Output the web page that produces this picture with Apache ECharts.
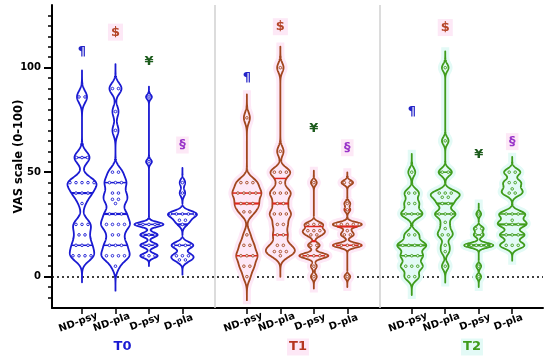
<!DOCTYPE html>
<html><head><meta charset="utf-8">
<script src="https://cdn.jsdelivr.net/npm/echarts@6/dist/echarts.min.js"></script>
<style>html,body{margin:0;padding:0;background:#fff}#c{width:550px;height:358px}</style>
</head><body><div id="c"></div>
<script>
// ---------- data ----------
const categories = ['ND-psy', 'ND-pla', 'D-psy', 'D-pla'];
const groups = ['T0', 'T1', 'T2'];
const yLabelTicks = [0, 50, 100];

const t0NDpsy = [86,86,57,57,57,45,45,45,45,45,40,40,40,35,25,25,25,20,20,15,15,15,10,10,10,10];
const t0NDpla = [90,90,79,70,50,50,45,45,45,40,40,37,37,35,30,30,30,25,25,25,25,20,20,15,15,15,10,10,10,10,5];
const t0Dpsy  = [86,55,25,25,25,25,25,20,20,20,15,15,15,10,10,10];
const t0Dpla  = [45,40,30,30,30,30,30,27,27,25,15,15,15,15,10,10,10,8,8];

const t1NDpsy = [76,45,45,45,40,40,40,40,35,35,35,31,31,20,15,15,10,10,10,5,5,0];
const t1NDpla = [100,60,50,50,50,45,40,40,40,35,35,30,30,30,25,25,20,20,15,15,12,12,12,10];
const t1Dpsy  = [45,25,25,25,22,22,22,20,20,15,15,10,10,10,10,10,5,0];
const t1Dpla  = [45,45,35,32,25,25,25,25,25,22,20,20,15,15,15,15,15,0];

const t2NDpsy = [50,40,40,35,35,30,30,30,20,20,15,15,15,15,10,10,10,5,5,5,0,0];
const t2NDpla = [100,65,50,50,40,40,40,38,38,35,35,30,30,30,26,23,20,20,15,12,5];
const t2Dpsy  = [30,23,23,20,20,15,15,15,15,15,15,5,0];
const t2Dpla  = [50,50,45,45,42,40,40,30,30,30,27,25,25,25,20,20,20,15,15,15];

// quartile / median lines (T0 x4, T1 x4, T2 x4)
const q1Lines  = [15, 15, 15, 15, 10, 20, 10, 15, 10, 30, 15, 20];
const medLines = [40, 30, 20, 25, 35, 35, 17, 24, 15, 35, 15, 25];
const q3Lines  = [57, 45, 25, 30, 40, 47, 24, 32, 30, 50, 20, 30];

// significance symbols and their heights
const annotSymbols = ['\u00B6', '$', '\u00A5', '\u00A7'];
const annotT0 = [107.5, 117, 103, 63];
const annotT1 = [95.4, 119.6, 71, 61.7];
const annotT2 = [79, 119.2, 58.2, 64.6];

// ---------- layout / style ----------
const violinValues = [t0NDpsy, t0NDpla, t0Dpsy, t0Dpla, t1NDpsy, t1NDpla, t1Dpsy, t1Dpla, t2NDpsy, t2NDpla, t2Dpsy, t2Dpla];
const annotHeights = [annotT0, annotT1, annotT2];
const GROUP_STEP = 4.925;
const X_MIN = -0.896, X_MAX = 13.77;
const HALF_W = 14.5;
const outlineColors = ['#1a1ad2', '#a2471f', '#3f9c1c'];
const lineColors = ['#1a1ad2', '#e0261e', '#3f9c1c'];
const glowColors = [null, '#fde8f6', '#e3faf6'];
const groupLabelColors = ['#1a1ad2', '#b5351f', '#3f9c1c'];
const groupLabelBg = [null, '#fde8f6', '#e3faf6'];
const symbolColors = ['#2424c8', '#b5462a', '#1d5c1d', '#9a35c9'];
const symbolBg = [null, '#fde8f6', null, '#fde8f6'];
const groupLabelX = [122.5, 298, 472];

function xPos(g, c) { return g * GROUP_STEP + c; }
const tickPositions = [];
groups.forEach((g, gi) => categories.forEach((c, ci) => tickPositions.push(xPos(gi, ci))));
const separators = [3 + (GROUP_STEP - 3) / 2, GROUP_STEP + 3 + (GROUP_STEP - 3) / 2];
const minorTicks = [];
for (let v = -10; v <= 125; v += 5) minorTicks.push(v);

function nameAt(v) {
  for (let i = 0; i < tickPositions.length; i++) {
    if (Math.abs(tickPositions[i] - v) < 0.01) return categories[i % 4];
  }
  return '';
}

function quantile(sorted, p) {
  const pos = (sorted.length - 1) * p, lo = Math.floor(pos), hi = Math.ceil(pos);
  return sorted[lo] + (sorted[hi] - sorted[lo]) * (pos - lo);
}
function bandwidth(v) {
  const n = v.length, mean = v.reduce((a, b) => a + b, 0) / n;
  const sd = Math.sqrt(v.reduce((a, b) => a + (b - mean) * (b - mean), 0) / (n - 1));
  const s = v.slice().sort((a, b) => a - b);
  const iqr = quantile(s, 0.75) - quantile(s, 0.25);
  let sig = Math.min(sd, iqr / 1.34);
  if (!(sig > 0)) sig = sd;
  return Math.max(1.1, 0.28 * 0.9 * sig * Math.pow(n, -0.2));
}
function dens(v, h, y) {
  let s = 0;
  for (const x of v) { const z = (y - x) / h; s += Math.exp(-0.5 * z * z); }
  return s;
}

function renderViolin(params, api) {
  const xc = api.value(0);
  const idx = api.value(2);
  const g = Math.floor(idx / 4);
  const v = violinValues[idx];
  const h = bandwidth(v);
  const lo = Math.min(...v) - 4.5 * h, hi = Math.max(...v) + 4.5 * h;
  const N = 400, ys = [], ds = [];
  for (let i = 0; i <= N; i++) { const y = lo + (hi - lo) * i / N; ys.push(y); ds.push(dens(v, h, y)); }
  const dmax = Math.max(...ds);
  const cx = api.coord([xc, 0])[0];
  const wAt = y => dens(v, h, y) / dmax * HALF_W;
  const pts = [];
  for (let i = 0; i <= N; i++) pts.push([cx + ds[i] / dmax * HALF_W, api.coord([xc, ys[i]])[1]]);
  for (let i = N; i >= 0; i--) pts.push([cx - ds[i] / dmax * HALF_W, api.coord([xc, ys[i]])[1]]);
  const children = [];
  if (glowColors[g]) {
    children.push({ type: 'polygon', shape: { points: pts }, style: { fill: glowColors[g], stroke: glowColors[g], lineWidth: 8, lineJoin: 'miter' } });
  }
  children.push({ type: 'polygon', shape: { points: pts }, style: { fill: 'rgba(255,255,255,0)', stroke: outlineColors[g], lineWidth: 1.8, lineJoin: 'round' } });
  [[q1Lines[idx], 1.5], [medLines[idx], 2.2], [q3Lines[idx], 1.5]].forEach(([q, lw]) => {
    const w = wAt(q); const py = api.coord([xc, q])[1];
    children.push({ type: 'line', shape: { x1: cx - w, y1: py, x2: cx + w, y2: py }, style: { stroke: lineColors[g], lineWidth: lw } });
  });
  const counts = {};
  v.forEach(x => counts[x] = (counts[x] || 0) + 1);
  Object.keys(counts).forEach(key => {
    const val = +key, k = counts[key];
    const w = wAt(val);
    const sp = k > 1 ? Math.min(6, Math.max(2.6, (2 * w - 4) / (k - 1))) : 0;
    const py = api.coord([xc, val])[1];
    for (let j = 0; j < k; j++) {
      children.push({ type: 'circle', shape: { cx: cx + (j - (k - 1) / 2) * sp, cy: py, r: 1.3 }, style: { fill: glowColors[g] || '#fff', stroke: outlineColors[g], lineWidth: 0.9 } });
    }
  });
  return { type: 'group', children };
}

function renderSymbol(params, api) {
  const p = api.coord([api.value(0), api.value(1)]);
  const si = api.value(2);
  const gi = api.value(3);
  const bg = symbolBg[si];
  return { type: 'text', x: p[0], y: p[1], style: { text: annotSymbols[si], fill: symbolColors[si], font: 'bold 13px "DejaVu Sans"', align: 'center', verticalAlign: 'middle', backgroundColor: bg || 'transparent', padding: [2, 3] } };
}

const violinSeriesData = violinValues.map((v, i) => [xPos(Math.floor(i / 4), i % 4), medLines[i], i]);
const symbolSeriesData = [];
annotHeights.forEach((arr, gi) => arr.forEach((y, si) => symbolSeriesData.push([xPos(gi, si), y, si, gi])));

const chart = echarts.init(document.getElementById('c'), null, { renderer: 'canvas' });
chart.setOption({
  animation: false,
  backgroundColor: '#fff',
  grid: { left: 52, right: 7, top: 5, bottom: 50, containLabel: false, outerBoundsMode: 'none' },
  xAxis: {
    type: 'value', min: X_MIN, max: X_MAX,
    splitLine: { show: false },
    axisLine: { show: true, onZero: false, lineStyle: { color: '#000', width: 2 } },
    axisTick: { show: true, customValues: tickPositions, length: 6, lineStyle: { color: '#000', width: 1.5 } },
    axisLabel: { show: true, customValues: tickPositions, formatter: v => nameAt(v), rotate: 20, align: 'center', verticalAlign: 'middle', margin: 13, padding: [0, 8, 0, 0], fontFamily: 'DejaVu Sans', fontWeight: 'bold', fontSize: 10, color: '#000' }
  },
  yAxis: [
    {
      type: 'value', min: -15, max: 130,
      splitLine: { show: false },
      axisLine: { show: true, onZero: false, lineStyle: { color: '#000', width: 2 } },
      axisTick: { show: true, customValues: minorTicks, length: 4, lineStyle: { color: '#000', width: 1.5 } },
      axisLabel: { show: false }
    },
    {
      type: 'value', min: -15, max: 130, position: 'left',
      splitLine: { show: false },
      axisLine: { show: false, onZero: false },
      axisTick: { show: true, customValues: yLabelTicks, length: 8, lineStyle: { color: '#000', width: 2 } },
      axisLabel: { customValues: yLabelTicks, margin: 11, fontFamily: 'DejaVu Sans', fontWeight: 'bold', fontSize: 10, color: '#000' },
      name: 'VAS scale (0-100)', nameLocation: 'middle', nameGap: 27, nameRotate: 90, nameMoveOverlap: false,
      nameTextStyle: { fontFamily: 'DejaVu Sans', fontWeight: 'bold', fontSize: 11.5, color: '#000' }
    }
  ],
  graphic: groups.map((t, i) => ({ type: 'text', x: groupLabelX[i], y: 347, style: { text: t, fill: groupLabelColors[i], font: 'bold 13px "DejaVu Sans"', align: 'center', verticalAlign: 'middle', backgroundColor: groupLabelBg[i] || 'transparent', padding: [2, 2] } })),
  series: [
    {
      type: 'custom', name: 'violins', renderItem: renderViolin, data: violinSeriesData,
      encode: { x: 0, y: 1 }, clip: false, z: 3,
      markLine: {
        silent: true, symbol: 'none', label: { show: false }, animation: false, z: 2,
        data: [
          { yAxis: 0, lineStyle: { color: '#000', type: [2, 3], width: 1.6 } },
          { xAxis: separators[0], lineStyle: { color: '#d0d0d0', type: 'solid', width: 1.5 } },
          { xAxis: separators[1], lineStyle: { color: '#d0d0d0', type: 'solid', width: 1.5 } }
        ]
      }
    },
    {
      type: 'custom', name: 'symbols', renderItem: renderSymbol, data: symbolSeriesData,
      encode: { x: 0, y: 1 }, clip: false, z: 4
    }
  ]
});
</script>
</body></html>
